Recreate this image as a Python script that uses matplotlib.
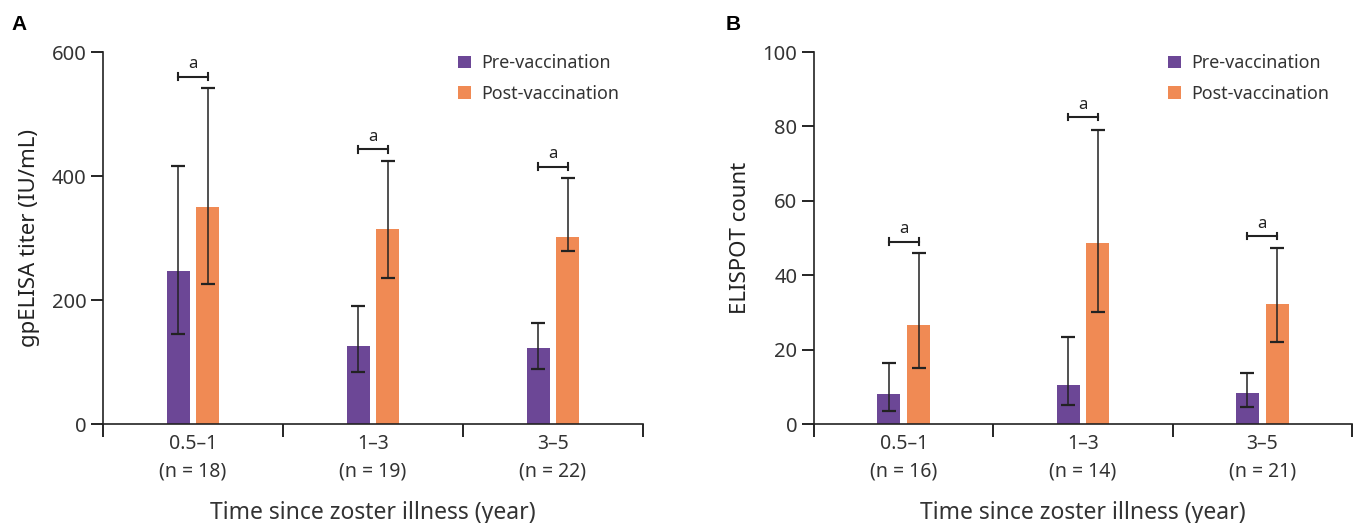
import matplotlib.pyplot as plt
import numpy as np

plt.rcParams['font.family'] = ['Noto Sans', 'DejaVu Sans']

# data
groups = ['0.5\u20131', '1\u20133', '3\u20135']
n_gp = [18, 19, 22]
n_el = [16, 14, 21]

gp_pre = [247, 126, 122]
gp_pre_lo = [145, 84, 89]
gp_pre_hi = [416, 190, 163]
gp_post = [350, 314, 301]
gp_post_lo = [226, 236, 279]
gp_post_hi = [542, 424, 396]
gp_sig = [560, 443, 415]

el_pre = [8.0, 10.5, 8.4]
el_pre_lo = [3.5, 5.0, 4.6]
el_pre_hi = [16.5, 23.3, 13.6]
el_post = [26.5, 48.7, 32.3]
el_post_lo = [15.0, 30.0, 22.0]
el_post_hi = [46.0, 79.0, 47.2]
el_sig = [49.0, 82.5, 50.5]

purple = '#6c4796'
orange = '#f08a54'
ink = '#222222'


def panel(ax, pre, pre_lo, pre_hi, post, post_lo, post_hi, sig, ns, ymax, ystep, ylabel, letter):
    x = np.arange(len(groups))
    w = 0.128
    off = 0.083
    ax.bar(x - off, pre, w, color=purple, label='Pre-vaccination', zorder=2)
    ax.bar(x + off, post, w, color=orange, label='Post-vaccination', zorder=2)
    yerr_pre = [np.array(pre) - np.array(pre_lo), np.array(pre_hi) - np.array(pre)]
    yerr_post = [np.array(post) - np.array(post_lo), np.array(post_hi) - np.array(post)]
    ax.errorbar(x - off, pre, yerr=yerr_pre, fmt='none', ecolor=ink, elinewidth=1.1, capsize=5, capthick=1.6, zorder=3)
    ax.errorbar(x + off, post, yerr=yerr_post, fmt='none', ecolor=ink, elinewidth=1.1, capsize=5, capthick=1.6, zorder=3)
    # significance brackets
    for xi, s in zip(x, sig):
        ax.plot([xi - off, xi + off], [s, s], color=ink, lw=1.5)
        tick = ymax * 0.009
        ax.plot([xi - off, xi - off], [s - tick, s + tick], color=ink, lw=1.5)
        ax.plot([xi + off, xi + off], [s - tick, s + tick], color=ink, lw=1.5)
        ax.text(xi, s + ymax * 0.012, 'a', ha='center', va='bottom', fontsize=12, color=ink)

    ax.set_xlim(-0.5, len(groups) - 0.5)
    ax.set_ylim(0, ymax)
    ax.set_yticks(np.arange(0, ymax + 1, ystep))
    ax.set_xticks(np.arange(len(groups) + 1) - 0.5)
    ax.set_xticklabels([])
    ax.set_xticks(x, minor=True)
    ax.set_xticklabels([g + '\n(n = %d)' % n for g, n in zip(groups, ns)], minor=True, fontsize=14, color='#333333', linespacing=1.5)
    ax.tick_params(axis='x', which='major', length=9, width=1.2, direction='out')
    ax.tick_params(axis='x', which='minor', length=0, pad=7)
    ax.tick_params(axis='y', length=9, width=1.2, labelsize=14.5, labelcolor='#333333', pad=3)
    for side in ['top', 'right']:
        ax.spines[side].set_visible(False)
    for side in ['left', 'bottom']:
        ax.spines[side].set_linewidth(1.2)
        ax.spines[side].set_color(ink)
    ax.set_ylabel(ylabel, fontsize=16, color='#222222', labelpad=8)
    ax.set_xlabel('Time since zoster illness (year)', fontsize=16.5, color='#333333', labelpad=14)
    leg = ax.legend(loc='upper left', bbox_to_anchor=(0.628, 1.037), frameon=False, fontsize=12.9,
                    handlelength=0.7, handleheight=0.7, handletextpad=0.6, labelspacing=0.7)
    for t in leg.get_texts():
        t.set_color('#333333')
    ax.text(-0.17 if letter == 'A' else -0.165, 1.075, letter, transform=ax.transAxes, fontsize=15,
            fontweight='bold', family=['Liberation Sans', 'DejaVu Sans'], ha='left', va='center')


fig = plt.figure(figsize=(13.59, 5.23), dpi=100)
axA = fig.add_axes([103 / 1359, 1 - 424 / 523, 540 / 1359, 372 / 523])
axB = fig.add_axes([814 / 1359, 1 - 424 / 523, 538 / 1359, 372 / 523])

panel(axA, gp_pre, gp_pre_lo, gp_pre_hi, gp_post, gp_post_lo, gp_post_hi, gp_sig, n_gp, 600, 200,
      'gpELISA titer (IU/mL)', 'A')
panel(axB, el_pre, el_pre_lo, el_pre_hi, el_post, el_post_lo, el_post_hi, el_sig, n_el, 100, 20,
      'ELISPOT count', 'B')

fig.savefig('out.png', dpi=100)
